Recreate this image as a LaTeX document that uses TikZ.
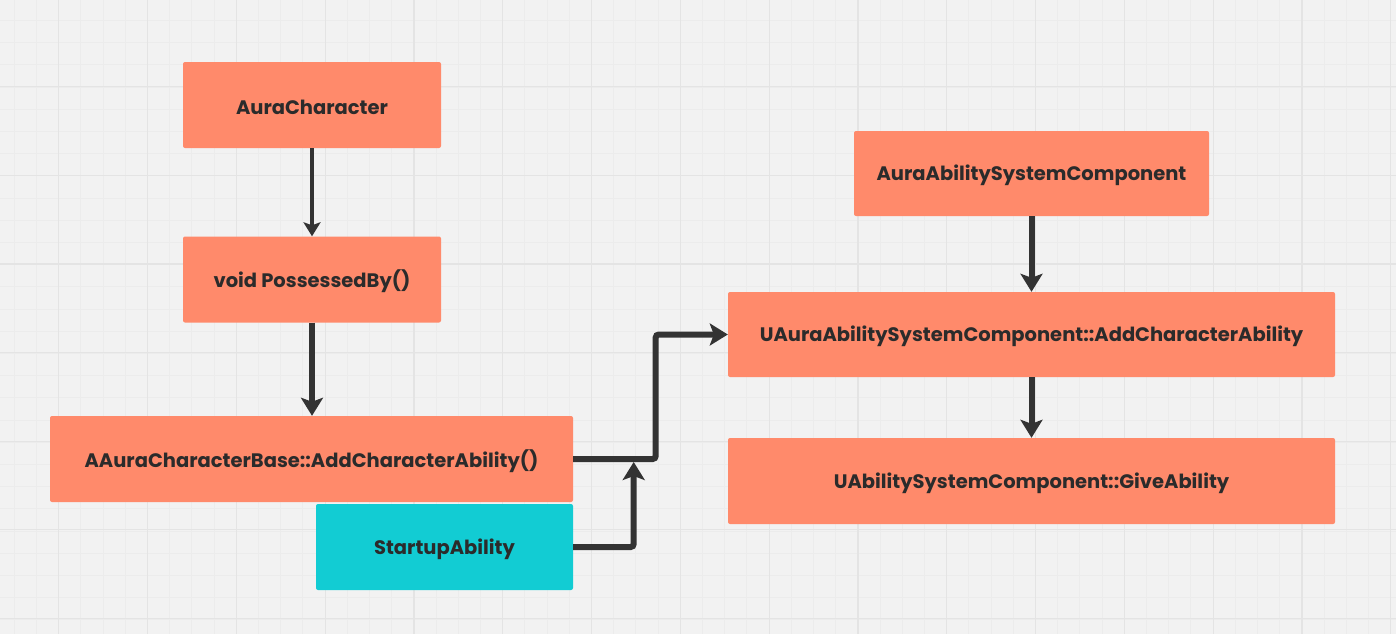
\documentclass[tikz,border=0pt]{standalone}
\usepackage{fontspec}
\setmainfont{Poppins}[UprightFont={* Bold}]
\usetikzlibrary{arrows.meta}
\definecolor{bg}{HTML}{F2F2F2}
\definecolor{gridminor}{HTML}{ECECEC}
\definecolor{gridmajor}{HTML}{E4E4E4}
\definecolor{salmon}{HTML}{FF8A6B}
\definecolor{cyanbox}{HTML}{12CCD3}
\definecolor{ink}{HTML}{2B2B2B}
\definecolor{wire}{HTML}{333333}
\tikzset{
  box/.style={fill=salmon, rounded corners=2pt, inner sep=0pt, text=ink, font=\fontsize{19.5}{22}\selectfont},
  cbox/.style={box, fill=cyanbox},
  lbl/.style={text=ink, inner sep=0pt, font=\fontsize{19.5}{22}\selectfont},
  thinarr/.style={draw=wire, line width=4pt, -{Stealth[length=14pt, width=17pt, inset=3pt]}},
  thickarr/.style={draw=wire, line width=6pt, rounded corners=3pt, -{Stealth[length=18pt, width=22pt, inset=4pt]}},
}
\begin{document}
\begin{tikzpicture}[x=1pt, y=-1pt]
\useasboundingbox (0,0) rectangle (1396,634);
\fill[bg] (0,0) rectangle (1396,634);
% grid
\foreach \i in {0,...,63} {
  \draw[gridminor, line width=0.9pt] ({-7.9+22.2*\i},0) -- ({-7.9+22.2*\i},634);
}
\foreach \i in {0,...,29} {
  \draw[gridminor, line width=0.9pt] (0,{-1.8+22.2*\i}) -- (1396,{-1.8+22.2*\i});
}
\foreach \i in {0,...,15} {
  \draw[gridmajor, line width=1.2pt] ({58.7+88.8*\i},0) -- ({58.7+88.8*\i},634);
}
\foreach \i in {0,...,7} {
  \draw[gridmajor, line width=1.2pt] (0,{-1.8+88.6*\i}) -- (1396,{-1.8+88.6*\i});
}
% nodes
\node[box, minimum width=258pt, minimum height=86pt] (ac) at (312,105) {};
\node[box, minimum width=258pt, minimum height=86pt] (pb) at (312,279.5) {};
\node[box, minimum width=523pt, minimum height=86pt] (aacb) at (311.5,459) {};
\node[cbox, minimum width=257pt, minimum height=86pt] (sa) at (444.5,547) {};
\node[box, minimum width=355pt, minimum height=85pt] (aasc) at (1031.5,173.5) {};
\node[box, minimum width=607pt, minimum height=85pt] (uaasc) at (1031.5,334.5) {};
\node[box, minimum width=607pt, minimum height=86pt] (give) at (1031.5,481) {};
% labels
\node[lbl] (acl) at ([yshift=-2pt]ac.center) {AuraCharacter};
\node[lbl] (pbl) at ([yshift=-2pt]pb.center) {void PossessedBy()};
\node[lbl] (aacbl) at ([yshift=-2pt]aacb.center) {AAuraCharacterBase::AddCharacterAbility()};
\node[lbl] (sal) at ([yshift=-2pt]sa.center) {StartupAbility};
\node[lbl] (aascl) at ([yshift=-2pt]aasc.center) {AuraAbilitySystemComponent};
\node[lbl] (uaascl) at ([yshift=-2pt]uaasc.center) {UAuraAbilitySystemComponent::AddCharacterAbility};
\node[lbl] (givel) at ([yshift=-2pt]give.center) {UAbilitySystemComponent::GiveAbility};
% junction coordinates
\coordinate (j1) at (655.7,459);
\coordinate (j2) at (633.7,462);
% connectors
\draw[thinarr] (ac.south) -- (pb.north);
\draw[thickarr] (pb.south) -- (pb.south |- aacb.north);
\draw[thickarr] (aasc.south) -- (uaasc.north);
\draw[thickarr] (uaasc.south) -- (give.north);
\draw[thickarr] (aacb.east) -- (j1) |- (uaasc.west);
\draw[thickarr] (sa.east) -| (j2);
\end{tikzpicture}
\end{document}
